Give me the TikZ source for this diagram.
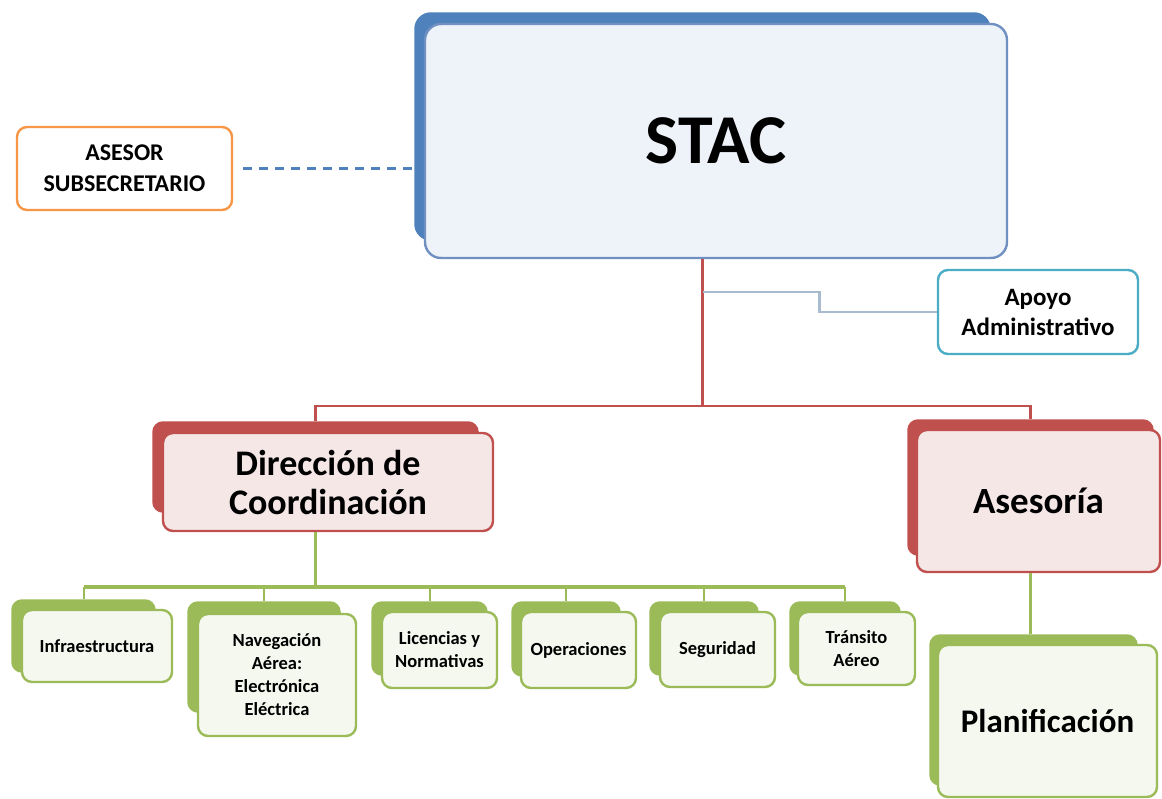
\documentclass[tikz,border=0pt]{standalone}
\usepackage{fontspec}
\setmainfont{Carlito}
\usetikzlibrary{positioning}
\definecolor{azul}{HTML}{4F81BD}
\definecolor{azulborde}{HTML}{6F90C0}
\definecolor{azulfondo}{HTML}{EEF3FA}
\definecolor{rojo}{HTML}{C0504D}
\definecolor{rosa}{HTML}{F6E7E7}
\definecolor{verde}{HTML}{9BBB59}
\definecolor{verdeclaro}{HTML}{F4F8EE}
\definecolor{naranja}{HTML}{F79646}
\definecolor{turquesa}{HTML}{4BACC6}
\definecolor{gris}{HTML}{A9BBCF}

\begin{document}
\begin{tikzpicture}[x=1pt,y=-1pt,
		tier/.style={rectangle,rounded corners=10pt,inner sep=0pt,align=center},
		backbox/.style={tier,draw=#1,fill=#1,line width=1.5pt},
		frontbox/.style 2 args={tier,draw=#1,fill=#2,line width=2.4pt},
		bigtext/.style={font=\fontsize{36}{39}\selectfont\bfseries},
		midtext/.style={font=\fontsize{25}{30}\selectfont\bfseries},
		smalltext/.style={font=\fontsize{18.5}{23}\selectfont\bfseries},
		redline/.style={draw=rojo,line width=2.4pt},
		greenline/.style={draw=verde,line width=2.4pt}
		]
		\useasboundingbox (0,0) rectangle (1162,798);

		% top
		\node[backbox=azul,rounded corners=16pt,minimum width=575pt,minimum height=227pt](stacB) at (702.5,126.5){};
		\node[frontbox={azulborde}{azulfondo},rounded corners=16pt,minimum width=582pt,minimum height=234pt,
		font=\fontsize{70}{80}\selectfont\bfseries](stacF) at (716,141){STAC};
		\node[frontbox={naranja}{white},midtext,font=\fontsize{24}{31}\selectfont\bfseries,minimum width=215pt,minimum height=83pt](asesor) at (124.5,168.5){ASESOR\\SUBSECRETARIO};
		\node[frontbox={turquesa}{white},midtext,minimum width=200pt,minimum height=84pt](apoyo) at (1038,312){Apoyo\\Administrativo};

		% second level
		\node[backbox=rojo,minimum width=325pt,minimum height=90pt](dirB) at (315.5,467){};
		\node[frontbox={rojo}{rosa},bigtext,minimum width=330pt,minimum height=98pt](dirF) at (328,482){Dirección de\\Coordinación};
		\node[backbox=rojo,minimum width=245pt,minimum height=135pt](aseB) at (1030.5,487.5){};
		\node[frontbox={rojo}{rosa},bigtext,font=\fontsize{37}{40}\selectfont\bfseries,minimum width=243pt,minimum height=142pt](aseF) at (1038.5,501){Asesoría};
		\node[backbox=verde,minimum width=207pt,minimum height=150pt](plaB) at (1033.5,710){};
		\node[frontbox={verde}{verdeclaro},bigtext,font=\fontsize{33}{38}\selectfont\bfseries,minimum width=219pt,minimum height=152pt](plaF) at (1047.5,721){Planificación};

		% third level
		\node[backbox=verde,minimum width=143pt,minimum height=72pt](infB) at (83.5,636){};
		\node[frontbox={verde}{verdeclaro},smalltext,minimum width=150pt,minimum height=72pt](infF) at (97,646){Infraestructura};
		\node[backbox=verde,minimum width=152pt,minimum height=110pt](navB) at (264,657){};
		\node[frontbox={verde}{verdeclaro},smalltext,minimum width=158pt,minimum height=122pt](navF) at (277,675){Navegación\\Aérea:\\Electrónica\\Eléctrica};
		\node[backbox=verde,minimum width=115pt,minimum height=73pt](licB) at (429.5,638.5){};
		\node[frontbox={verde}{verdeclaro},smalltext,minimum width=115pt,minimum height=76pt](licF) at (439.5,650){Licencias y\\Normativas};
		\node[backbox=verde,minimum width=108pt,minimum height=74pt](opeB) at (566,639){};
		\node[frontbox={verde}{verdeclaro},smalltext,minimum width=115pt,minimum height=76pt](opeF) at (578.5,650){Operaciones};
		\node[backbox=verde,minimum width=108pt,minimum height=73pt](segB) at (704,638.5){};
		\node[frontbox={verde}{verdeclaro},smalltext,minimum width=115pt,minimum height=75pt](segF) at (717.5,649.5){Seguridad};
		\node[backbox=verde,minimum width=110pt,minimum height=73pt](traB) at (845,638.5){};
		\node[frontbox={verde}{verdeclaro},smalltext,minimum width=117pt,minimum height=73pt](traF) at (856.5,648.5){Tránsito\\Aéreo};

		% connectors
		\coordinate (redbus) at (0,406);
		\coordinate (greenbus) at (0,587);
		\coordinate (apJ) at (stacB |- 0,292);
		\draw[dashed,draw=azul,line width=2.4pt,dash pattern=on 9pt off 7pt,shorten <=10pt] (asesor.east) -- (stacB.west |- asesor.east);
		\draw[redline] (stacB |- stacF.south) -- (stacB |- redbus);
		\draw[redline] (dirB.north) |- (stacB |- redbus) -| (aseB.north);
		\draw[draw=gris,line width=2.2pt] (apJ) -- ++(117,0) |- (apoyo.west);
		\draw[greenline] (dirB |- dirF.south) -- (dirB |- greenbus);
		\draw[greenline,line width=3.2pt] (infB.north |- greenbus) -- (traB.north |- greenbus);
		\foreach \n in {infB,navB,licB,opeB,segB,traB}
			\draw[greenline,line width=2pt] (\n.north) -- (\n.north |- greenbus);
		\draw[greenline] (aseB |- aseF.south) -- (aseB |- plaB.north);
	\end{tikzpicture}
\end{document}
